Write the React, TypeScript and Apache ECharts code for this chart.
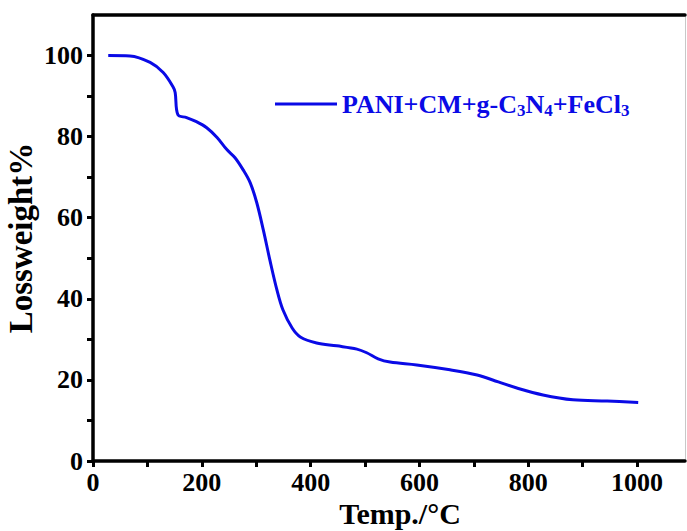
import React, { useEffect, useRef } from "react";
import * as echarts from "echarts";

const temps = [28, 68, 105, 129, 147, 151, 156, 172, 190, 209, 228, 246, 261, 276, 289, 301, 313, 325, 338, 349, 366, 381, 411, 448, 485, 503, 524, 546, 595, 656, 706, 745, 779, 827, 882, 945, 1002];
const weights = [100, 99.9, 98.3, 95.8, 92.3, 90.9, 85.4, 84.7, 83.7, 82.2, 79.8, 76.8, 74.8, 71.8, 68.6, 63.7, 57.0, 49.6, 42.2, 37.3, 32.8, 30.6, 29.1, 28.4, 27.6, 26.7, 25.2, 24.4, 23.7, 22.5, 21.2, 19.5, 18.0, 16.3, 15.1, 14.8, 14.4];
const seriesName = "PANI+CM+g-C3N4+FeCl3";
const xTitle = "Temp./°C";
const yTitle = "Lossweight%";

const FONT = "'Times New Roman', 'Liberation Serif', serif";
const BLUE = "#0a0ae6";

export default function App() {
  const ref = useRef<HTMLDivElement>(null);
  useEffect(() => {
    if (!ref.current) return;
    const chart = echarts.init(ref.current, undefined, { renderer: "svg" });
    const data = temps.map((t, i) => [t, weights[i]]);
    const axisLineStyle = { color: "#000", width: 3.5 };
    chart.setOption({
      animation: false,
      backgroundColor: "#fff",
      grid: { left: 93, right: 2, top: 15, bottom: 70, containLabel: false, outerBoundsMode: "none" },
      legend: {
        left: 270,
        top: 86,
        icon: "rect",
        itemWidth: 62,
        itemHeight: 3,
        itemGap: 6,
        data: [seriesName],
        formatter: () => "{a|PANI+CM+g-C}{s|3}{a|N}{s|4}{a|+FeCl}{s|3}",
        textStyle: {
          rich: {
            a: { fontFamily: FONT, fontWeight: "bold", fontSize: 26, color: BLUE, lineHeight: 30 },
            s: { fontFamily: FONT, fontWeight: "bold", fontSize: 17, color: BLUE, lineHeight: 2, verticalAlign: "bottom" },
          },
        },
      },
      xAxis: [
        {
          type: "value",
          min: 0,
          max: 1088,
          interval: 100,
          position: "bottom",
          name: xTitle,
          nameLocation: "middle",
          nameGap: 37,
          nameMoveOverlap: false,
          nameTextStyle: { fontFamily: FONT, fontWeight: "bold", fontSize: 30, lineHeight: 30, color: "#000", padding: [0, 0, 0, 22] },
          axisLine: { show: true, onZero: false, lineStyle: axisLineStyle },
          axisTick: { show: true, inside: false, length: 6, lineStyle: { color: "#000", width: 3 } },
          axisLabel: {
            show: true,
            margin: 8,
            fontFamily: FONT,
            fontWeight: "bold",
            fontSize: 26,
            color: "#000",
            showMaxLabel: false,
            formatter: (v: number) => (v % 200 === 0 && v <= 1000 ? String(v) : ""),
          },
          splitLine: { show: false },
        },
        {
          type: "value",
          min: 0,
          max: 1088,
          position: "top",
          axisLine: { show: true, onZero: false, lineStyle: axisLineStyle },
          axisTick: { show: false },
          axisLabel: { show: false },
          splitLine: { show: false },
        },
      ],
      yAxis: [
        {
          type: "value",
          min: 0,
          max: 110,
          interval: 10,
          position: "left",
          name: yTitle,
          nameLocation: "middle",
          nameGap: 56,
          nameMoveOverlap: false,
          nameTextStyle: { fontFamily: FONT, fontWeight: "bold", fontSize: 33, color: "#000" },
          axisLine: { show: true, onZero: false, lineStyle: axisLineStyle },
          axisTick: { show: true, inside: false, length: 6, lineStyle: { color: "#000", width: 3 } },
          axisLabel: {
            show: true,
            margin: 10,
            fontFamily: FONT,
            fontWeight: "bold",
            fontSize: 26,
            color: "#000",
            showMaxLabel: false,
            formatter: (v: number) => (v % 20 === 0 && v <= 100 ? String(v) : ""),
          },
          splitLine: { show: false },
        },
        {
          type: "value",
          min: 0,
          max: 110,
          position: "right",
          axisLine: { show: true, onZero: false, lineStyle: { color: "#c8c8c8", width: 1 } },
          axisTick: { show: false },
          axisLabel: { show: false },
          splitLine: { show: false },
        },
      ],
      series: [
        {
          name: seriesName,
          type: "line",
          xAxisIndex: 0,
          yAxisIndex: 0,
          data,
          smooth: 0.35,
          showSymbol: false,
          symbol: "none",
          lineStyle: { color: BLUE, width: 3 },
          itemStyle: { color: BLUE },
        },
      ],
    });
    return () => chart.dispose();
  }, []);
  return <div ref={ref} style={{ position: "fixed", left: 0, top: 0, width: 687, height: 531 }} />;
}
